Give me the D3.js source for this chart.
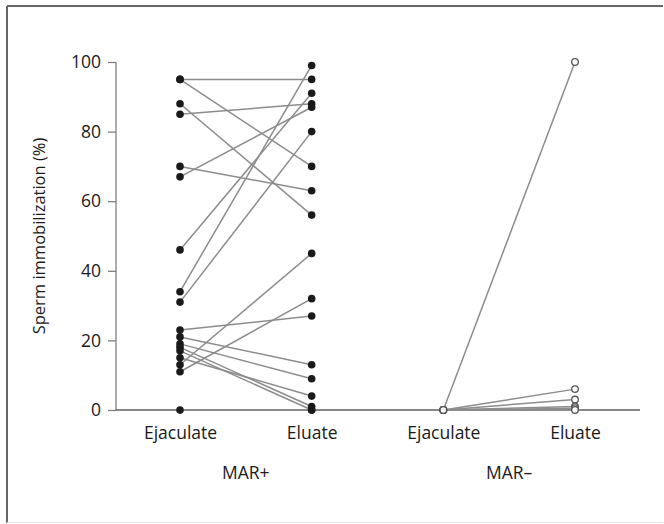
<!DOCTYPE html>
<html>
<head>
<meta charset="utf-8">
<script src="https://cdn.jsdelivr.net/npm/d3@7"></script>
<style>
  body { margin: 0; background: #fff; }
  svg { display: block; }
</style>
</head>
<body>
<div id="chart"></div>
<script>
// paired values, MAR+ group (ejaculate -> eluate)
var posEjaculate = [95, 95, 88, 85, 70, 67, 46, 34, 31, 23, 21, 19, 18, 17, 15, 13, 11, 0];
var posEluate    = [95, 70, 56, 88, 63, 87, 91, 99, 80, 27, 13, 9, 1, 0, 4, 45, 32, 0];
// MAR- group
var negEjaculate = [0, 0, 0, 0, 0, 0];
var negEluate    = [100, 6, 3, 1, 0.5, 0];

var columns = ["MAR+|Ejaculate", "MAR+|Eluate", "MAR–|Ejaculate", "MAR–|Eluate"];
var groups = ["MAR+", "MAR–"];
var yTicks = [0, 20, 40, 60, 80, 100];

var width = 664, height = 524;
var font = "'Open Sans', sans-serif";

var svg = d3.select("#chart")
  .append("svg")
    .attr("width", width)
    .attr("height", height);

// frame
svg.append("line").attr("x1", 7).attr("x2", 663).attr("y1", 6).attr("y2", 6)
  .style("stroke", "#666").style("stroke-width", 2);
svg.append("line").attr("x1", 7).attr("x2", 7).attr("y1", 6).attr("y2", 523)
  .style("stroke", "#666").style("stroke-width", 2);
svg.append("line").attr("x1", 7).attr("x2", 663).attr("y1", 522.5).attr("y2", 522.5)
  .style("stroke", "#e4e4e4").style("stroke-width", 1);

var x = d3.scalePoint()
  .domain(columns)
  .range([180, 575]);

var y = d3.scaleLinear()
  .domain([0, 100])
  .range([410, 62]);

// y axis
var yAxis = svg.append("g")
  .attr("transform", "translate(116,0)")
  .call(d3.axisLeft(y).tickValues(yTicks).tickSize(8).tickPadding(7));
yAxis.select(".domain").style("stroke", "#777").style("stroke-width", 1.2)
  .attr("d", "M0," + y(100) + "V" + y(0));
yAxis.selectAll(".tick line").style("stroke", "#777").style("stroke-width", 1.2);
yAxis.selectAll(".tick text")
  .style("font-family", font).style("font-size", "17.5px")
  .style("fill", "#1a1a1a");

// x axis
var xAxis = svg.append("g")
  .attr("transform", "translate(0," + y(0) + ")")
  .call(d3.axisBottom(x).tickSize(4).tickPadding(13)
    .tickFormat(function(d) { return d.split("|")[1]; }));
xAxis.select(".domain").style("stroke", "#111").style("stroke-width", 1.2)
  .attr("d", "M116,0H640");
xAxis.selectAll(".tick line").style("stroke", "#333").style("stroke-width", 1.2);
xAxis.selectAll(".tick text")
  .style("font-family", font).style("font-size", "17.5px")
  .style("fill", "#1a1a1a");

// group labels
svg.selectAll(".group")
  .data(groups).enter()
  .append("text")
    .attr("x", function(d) { return (x(d + "|Ejaculate") + x(d + "|Eluate")) / 2; })
    .attr("y", 479)
    .attr("text-anchor", "middle")
    .style("font-family", font).style("font-size", "17.5px")
    .style("fill", "#1a1a1a")
    .text(function(d) { return d; });

// y title
svg.append("text")
  .attr("transform", "translate(45," + y(50) + ") rotate(-90)")
  .attr("text-anchor", "middle")
  .style("font-family", font).style("font-size", "16.5px")
  .style("fill", "#1a1a1a")
  .text("Sperm immobilization (%)");

var pos = posEjaculate.map(function(v, i) { return [v, posEluate[i]]; });
var neg = negEjaculate.map(function(v, i) { return [v, negEluate[i]]; });

// connecting lines
svg.selectAll(".posline")
  .data(pos).enter()
  .append("line")
    .attr("x1", x("MAR+|Ejaculate"))
    .attr("x2", x("MAR+|Eluate"))
    .attr("y1", function(d) { return y(d[0]); })
    .attr("y2", function(d) { return y(d[1]); })
    .style("stroke", "#8c8c8c")
    .style("stroke-width", 1.5);

svg.selectAll(".negline")
  .data(neg).enter()
  .append("line")
    .attr("x1", x("MAR–|Ejaculate"))
    .attr("x2", x("MAR–|Eluate"))
    .attr("y1", function(d) { return y(d[0]); })
    .attr("y2", function(d) { return y(d[1]); })
    .style("stroke", "#8c8c8c")
    .style("stroke-width", 1.5);

// MAR+ points, filled
var posPts = [];
pos.forEach(function(d) {
  posPts.push({col: "MAR+|Ejaculate", v: d[0]});
  posPts.push({col: "MAR+|Eluate", v: d[1]});
});
svg.selectAll(".pospt")
  .data(posPts).enter()
  .append("circle")
    .attr("cx", function(d) { return x(d.col); })
    .attr("cy", function(d) { return y(d.v); })
    .attr("r", 3.8)
    .style("fill", "#1a1a1a");

// MAR- points, open
var negPts = [];
neg.forEach(function(d) {
  negPts.push({col: "MAR–|Ejaculate", v: d[0]});
  negPts.push({col: "MAR–|Eluate", v: d[1]});
});
svg.selectAll(".negpt")
  .data(negPts).enter()
  .append("circle")
    .attr("cx", function(d) { return x(d.col); })
    .attr("cy", function(d) { return y(d.v); })
    .attr("r", 3.3)
    .style("fill", "#fff")
    .style("stroke", "#555")
    .style("stroke-width", 1.3);
</script>
</body>
</html>
